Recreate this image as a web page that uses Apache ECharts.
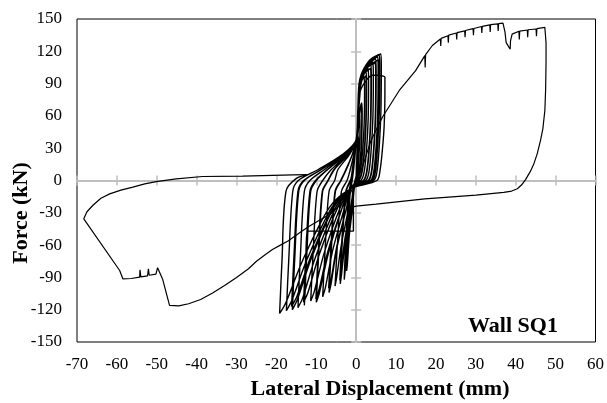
<!DOCTYPE html>
<html>
<head>
<meta charset="utf-8">
<script src="https://cdn.jsdelivr.net/npm/echarts@6/dist/echarts.min.js"></script>
<style>
  html, body { margin: 0; padding: 0; background: #fff; }
  #main { width: 607px; height: 403px; }
</style>
</head>
<body>
<div id="main"></div>
<script>
// axis ranges / ticks
var xMin = -70, xMax = 60, xStep = 10;
var yMin = -150, yMax = 150, yStep = 30;

// cyclic loops around the origin, [displacement mm, force kN]
var cycles = [
    [0,0],[0.2,25],[0.35,38],[0.5,42],[0.55,32],[0.45,18],[0.2,5],[-0.5,-8],[-0.9,-25],[-1.7,-50],[-2.2,-77],[-2.4,-84],[-2.0,-50],[-1.5,-10],[-1.0,0],[-0.6,12],[-0.3,24],[0,34],
    [0.3,38],[0.6,40],[0.65,28],[0.5,12],[0.1,2],[-0.6,-8],[-1,-25],[-1.8,-49],[-2.4,-75],[-2.6,-82],[-2.2,-49],[-1.6,-10],[-1.1,0],[-0.6,12],[-0.3,24],[0,34],
    [0.4,45],[0.6,56],[0.9,62],[0.95,47],[0.8,30],[0.4,10],[-0.3,0],[-0.8,-8],[-1.2,-25],[-2.1,-55],[-2.8,-85],[-3,-92],[-2.6,-55],[-1.8,-10],[-1.2,0],[-0.8,10],[-0.4,24],[0,36],
    [0.4,45],[0.8,62],[1.1,69],[1.4,72],[1.5,62],[1.4,40],[1.1,20],[0.6,6],[-0.5,-6],[-1.4,-25],[-2.8,-58],[-3.7,-88],[-4,-96],[-3.5,-58],[-2.5,-10],[-1.2,2],[-0.8,12],[-0.4,24],[0,36],
    [0.4,42],[0.8,58],[1.0,65],[1.3,68],[1.4,58],[1.3,38],[1.0,18],[0.5,5],[-0.5,-6],[-1.4,-25],[-2.9,-56],[-3.8,-86],[-4.1,-93],[-3.6,-56],[-2.6,-10],[-1.3,2],[-0.9,12],[-0.4,24],[0,36],
    [0.4,55],[0.9,78],[1.2,91],[2.0,96],[2.1,84],[2.0,53],[1.6,27],[1.0,8],[0.2,0],[-1.5,-8],[-1.9,-25],[-3.7,-59],[-4.9,-90],[-5.3,-98],[-4.7,-59],[-3.7,-10],[-2.3,0],[-1.5,10],[-0.6,24],[0,36],
    [0.4,56],[0.9,81],[1.4,96],[2.5,101],[2.6,89],[2.5,56],[2.1,28],[1.5,8],[0.7,0],[-1.5,-8],[-2.4,-25],[-4.8,-62],[-6.3,-96],[-6.8,-104],[-6.2,-62],[-5.2,-10],[-3.8,0],[-2.5,10],[-1.0,24],[0,37],
    [0.4,55],[0.9,78],[1.3,92],[2.4,97],[2.5,85],[2.4,53],[2.0,27],[1.4,8],[0.6,0],[-1.5,-8],[-2.4,-25],[-4.8,-60],[-6.3,-92],[-6.9,-100],[-6.3,-60],[-5.3,-10],[-3.9,0],[-2.6,10],[-1.0,24],[0,37],
    [0.4,57],[0.9,83],[1.7,99],[3.0,104],[3.1,92],[3.0,57],[2.6,29],[2.0,8],[1.2,0],[-1.5,-8],[-2.9,-25],[-5.9,-65],[-7.7,-99],[-8.4,-108],[-7.8,-65],[-6.8,-10],[-5.4,0],[-4.6,10],[-1.7,24],[0,37],
    [0.4,59],[0.9,86],[2.0,103],[3.7,108],[3.8,96],[3.7,59],[3.3,30],[2.7,8],[1.9,0],[-1.5,-8],[-3.5,-25],[-7,-68],[-9.2,-104],[-10,-113],[-9.4,-68],[-8.4,-10],[-7,0],[-5.5,10],[-2,24],[0,37],
    [0.4,57],[0.9,83],[2.0,99],[3.6,104],[3.7,92],[3.6,57],[3.2,29],[2.6,8],[1.8,0],[-1.5,-8],[-3.5,-25],[-7.1,-66],[-9.3,-101],[-10.1,-110],[-9.5,-66],[-8.5,-10],[-7.1,0],[-5.6,10],[-2,24],[0,37],
    [0.4,60],[0.9,88],[2.3,105],[4.2,110],[4.3,98],[4.2,60],[3.8,31],[3.2,8],[2.4,0],[-1.5,-8],[-4,-25],[-8,-67],[-10.5,-103],[-11.4,-112],[-10.8,-67],[-9.8,-10],[-8.4,0],[-6.3,10],[-2.3,24],[0,38],
    [0.4,62],[0.9,90],[2.7,107],[4.9,113],[5.0,101],[4.9,62],[4.5,32],[3.9,8],[3.1,0],[-0.7,-8],[-0.7,-47],[-12.3,-47],[-12.7,-95],[-13,-116],[-12.4,-70],[-11.4,-10],[-10,0],[-7.2,10],[-2.6,24],[0,38],
    [0.4,60],[0.9,87],[2.6,104],[4.8,109],[4.9,97],[4.8,60],[4.4,31],[3.8,8],[3.0,0],[-1.5,-8],[-4.6,-25],[-9.2,-68],[-12.1,-104],[-13.2,-113],[-12.6,-68],[-11.6,-10],[-10.2,0],[-7.3,10],[-2.6,24],[0,38],
    [0.4,63],[0.9,92],[3.0,109],[5.4,115],[5.5,103],[5.4,63],[5.0,32],[4.4,8],[3.6,0],[-1.5,-8],[-5.1,-25],[-10.2,-71],[-13.4,-109],[-14.6,-118],[-14,-71],[-13,-10],[-11.6,0],[-8,10],[-2.9,24],[0,38],
    [0.4,64],[0.9,93],[3.2,111],[5.8,116.5],[5.9,104],[5.8,64],[5.4,33],[4.8,8],[4.0,0],[-1.5,-8],[-5.6,-25],[-11.2,-72],[-14.7,-110],[-16,-120],[-15.4,-72],[-14.4,-10],[-13,0],[-8.8,10],[-3.2,24],[0,38],
    [0.4,62],[0.9,90],[3.1,106],[5.7,112],[5.8,100],[5.7,62],[5.3,31],[4.7,8],[3.9,0],[-1.5,-8],[-5.7,-25],[-11.3,-70],[-14.9,-108],[-16.2,-117],[-15.6,-70],[-14.6,-10],[-13.2,0],[-8.9,10],[-3.2,24],[0,38],
    [0.4,65],[0.9,94],[3.4,112],[6.2,117.5],[6.3,105],[6.2,65],[5.8,33],[5.2,8],[4.4,0],[-1.5,-8],[-6.1,-25],[-12.3,-73],[-16.1,-111],[-17.5,-121],[-16.9,-73],[-15.9,-10],[-14.5,0],[-9.6,10],[-3.5,24],[0,38],
    [0.5,65],[1.2,85],[4.3,98],[6.8,97],[7.2,96],[7.2,80],[7.0,50],[6.6,30],[6.0,10],[5.2,0],[-1.5,-8],[-6.7,-25],[-13.4,-74],[-17.7,-114],[-19.2,-123.5],[-18.6,-74],[-17.6,-10],[-15,2],[-12,5.5]
];

// large negative excursion and return to the origin
var negRun = [
    [-12,5.5],[-15.9,5.3],[-28.5,4],[-38.5,3.7],[-45.1,1.5],[-50.1,-1],[-53,-3.2],[-56,-6.2],[-59,-9],[-61.8,-12.4],[-64,-16.5],[-66,-23],[-67.5,-29],[-68.3,-35.6],
    [-59.3,-83.6],[-58.5,-91.3],[-56.4,-91],[-54.3,-89.8],[-54.2,-83],[-54,-89.5],[-52.3,-88.5],[-52.1,-82],[-51.9,-88],
    [-50.2,-87],[-49.8,-81],[-49.4,-82],[-48.5,-92],[-46.8,-116],[-44.5,-116.5],[-42,-114.5],[-39,-110.5],[-36,-104.5],
    [-33,-97.5],[-30,-90],[-27,-82],[-25,-75],[-23,-69.5],[-21,-64],[-19,-60],[-17,-56],[-14,-48],[-12,-43],
    [-6,-30],[-1.5,-12],[1.5,12],[3.7,37]
];

// large positive excursion and unloading
var posRun = [
    [3.7,37],[6.6,59],[10.8,83.6],[14.9,102],[17.2,116],[17.3,105],[17.4,117],[19.1,125.4],
    [21.1,131.5],[21.2,125],[21.3,132],[23,134.5],[23.1,128],[23.2,135],[25.1,137],[25.2,131],[25.3,137.3],
    [27.2,139],[27.3,133],[27.4,139.3],[29.3,141],[29.4,135],[29.5,141.2],[31.4,143],[31.5,137],[31.6,143.2],
    [33.5,144.6],[33.6,138],[33.7,144.8],[35.5,145.5],[35.6,139],[35.7,145.7],[36.8,146.1],[37.3,138],[37.6,128],
    [38.6,122],[38.7,130],[39.1,136],[40.8,138.6],[40.9,131],[41,138.8],[42.9,139.8],[43,133],[43.1,140],
    [45.1,140.7],[45.2,134],[45.3,141],[47.3,142.3],[47.6,128],[47.6,110],[47.5,85],[47.3,65],[46.8,48],
    [46.2,37],[45.4,25],[44.5,15],[43.6,8],[42.5,1],[41.5,-4],[40.4,-7.7],[39,-9.8],[37,-11],
    [30,-13.5],[17.2,-17],[5,-22],[0,-23.8],[-0.8,-24.5]
];

var serif = '"Liberation Serif", "Times New Roman", serif';
var grey = '#bfbfbf';

function zeroXAxis(inside) {
    return {
        type: 'value', min: xMin, max: xMax, interval: xStep,
        axisLine: { onZero: true, onZeroAxisIndex: 0, lineStyle: { color: grey, width: 2 } },
        axisTick: { show: true, inside: inside, length: 5, lineStyle: { color: grey, width: 1.5 } },
        axisLabel: { show: false }, splitLine: { show: false }
    };
}
function zeroYAxis(inside) {
    return {
        type: 'value', min: yMin, max: yMax, interval: yStep,
        axisLine: { onZero: true, onZeroAxisIndex: 0, lineStyle: { color: grey, width: 2 } },
        axisTick: { show: true, inside: inside, length: 5, lineStyle: { color: grey, width: 1.5 } },
        axisLabel: { show: false }, splitLine: { show: false }
    };
}
function path(name, data, smooth, width) {
    return {
        name: name, type: 'line', xAxisIndex: 0, yAxisIndex: 0,
        data: data, showSymbol: false, smooth: smooth,
        lineStyle: { color: '#000', width: width }, z: 5
    };
}

var myChart = echarts.init(document.getElementById('main'));
var option = {
    animation: false,
    backgroundColor: '#fff',
    grid: { left: 77, right: 10, top: 19, bottom: 61, show: true, borderColor: '#000', borderWidth: 1, backgroundColor: 'transparent' },
    xAxis: [
        {
            type: 'value', min: xMin, max: xMax, interval: xStep,
            axisLine: { show: false, onZero: false }, axisTick: { show: false }, splitLine: { show: false },
            axisLabel: { fontFamily: serif, fontSize: 17, color: '#000', margin: 14 }
        },
        zeroXAxis(true),
        zeroXAxis(false)
    ],
    yAxis: [
        {
            type: 'value', min: yMin, max: yMax, interval: yStep,
            axisLine: { show: false, onZero: false }, axisTick: { show: false }, splitLine: { show: false },
            axisLabel: { fontFamily: serif, fontSize: 17, color: '#000', margin: 15 }
        },
        zeroYAxis(true),
        zeroYAxis(false)
    ],
    graphic: [
        { type: 'text', x: 380, y: 389, style: { text: 'Lateral Displacement (mm)', font: 'bold 22px ' + serif, fill: '#000', align: 'center', verticalAlign: 'middle', textAlign: 'center', textVerticalAlign: 'middle' } },
        { type: 'text', x: 21, y: 213, rotation: Math.PI / 2, style: { text: 'Force (kN)', font: 'bold 22px ' + serif, fill: '#000', align: 'center', verticalAlign: 'middle', textAlign: 'center', textVerticalAlign: 'middle' } },
        { type: 'text', x: 513, y: 326, style: { text: 'Wall SQ1', font: 'bold 22px ' + serif, fill: '#000', align: 'center', verticalAlign: 'middle', textAlign: 'center', textVerticalAlign: 'middle' } }
    ],
    series: [
        path('cycles', cycles, 0.3, 1.4),
        path('negative run', negRun, false, 1.2),
        path('positive run', posRun, false, 1.2)
    ]
};
myChart.setOption(option);
</script>
</body>
</html>
